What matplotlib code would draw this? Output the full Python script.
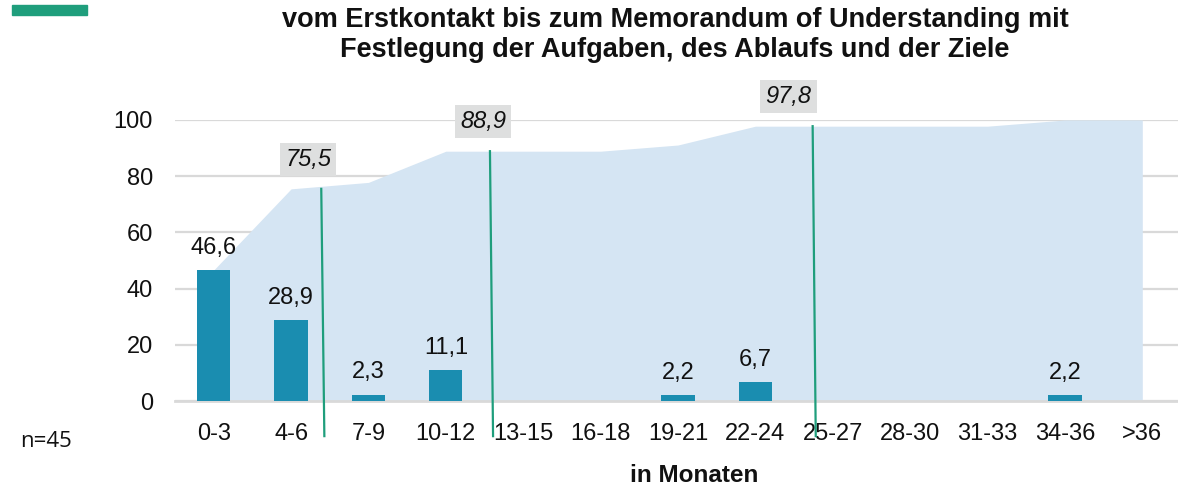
#!/usr/bin/env python3
"""
Dauer vom Erstkontakt bis zum Memorandum of Understanding - Balken mit kumulierter Fläche
"""

import numpy as np
import matplotlib.pyplot as plt
from matplotlib.patches import Rectangle

plt.rcParams['font.family'] = ['Liberation Sans', 'DejaVu Sans']

# Dauer in Monaten und Anteile in Prozent
categories = ['0-3', '4-6', '7-9', '10-12', '13-15', '16-18', '19-21', '22-24',
              '25-27', '28-30', '31-33', '34-36', '>36']
shares = [46.6, 28.9, 2.3, 11.1, 0, 0, 2.2, 6.7, 0, 0, 0, 2.2, 0]
cumulative = [46.6, 75.5, 77.8, 88.9, 88.9, 88.9, 91.1, 97.8, 97.8, 97.8, 97.8, 100, 100]

# Markierungen der kumulierten Schwellen
marker_values = [75.5, 88.9, 97.8]
marker_x = [1.39, 3.57, 7.74]
marker_label_x = [1.22, 3.48, 7.43]

BAR_COLOR = '#1a8db0'
AREA_COLOR = '#d5e5f3'
GREEN = '#1f9e7c'
GRID = '#d9d9d9'
TXT = '#111111'

W, H = 1178, 491
fig = plt.figure(figsize=(W / 100, H / 100), dpi=100)
ax = fig.add_axes([175 / W, 90 / H, 1006 / W, 281 / H])

x = np.arange(len(categories))

ax.fill_between(x, cumulative, 0, color=AREA_COLOR, linewidth=0, zorder=1)
ax.bar(x, shares, width=0.43, color=BAR_COLOR, zorder=3)

for i, v in enumerate(shares):
    if v > 0:
        ax.annotate(f"{v:.1f}".replace('.', ','), (i, v), xytext=(0, 8),
                    textcoords='offset points', ha='center', va='bottom',
                    fontsize=17, color=TXT, zorder=4)

for mx, lx, v in zip(marker_x, marker_label_x, marker_values):
    ax.plot([mx, mx + 0.04], [v, -12.5], color=GREEN, lw=1.6,
            clip_on=False, zorder=5)
    ax.text(lx, v + 10.5, f"{v:.1f}".replace('.', ','), ha='center', va='center',
            fontsize=17, style='italic', color=TXT, zorder=6,
            bbox=dict(boxstyle='square,pad=0.22', fc='#dedfdf', ec='none'))

ax.set_xlim(-0.5, 12.5)
ax.set_ylim(0, 100)
ax.set_yticks(range(0, 101, 20))
ax.yaxis.grid(True, color=GRID, lw=1.6, zorder=0)
ax.set_axisbelow(True)
ax.set_xticks(x)
ax.set_xticklabels(categories)
ax.tick_params(axis='both', length=0, labelsize=17, colors=TXT)
ax.tick_params(axis='x', pad=16)
ax.tick_params(axis='y', pad=16)
for side in ['top', 'right', 'left']:
    ax.spines[side].set_visible(False)
ax.spines['bottom'].set_color(GRID)
ax.spines['bottom'].set_linewidth(2)

# Achsentitel
fig.text(694 / W, 1 - 482 / H, 'in Monaten', ha='center', va='baseline',
         fontsize=17.5, fontweight='bold', color=TXT)

# Titel in zwei Zeilen
fig.text(675 / W, 1 - 27 / H,
         'vom Erstkontakt bis zum Memorandum of Understanding mit',
         ha='center', va='baseline', fontsize=19.5, fontweight='bold', color=TXT)
fig.text(675 / W, 1 - 57 / H,
         'Festlegung der Aufgaben, des Ablaufs und der Ziele',
         ha='center', va='baseline', fontsize=19.5, fontweight='bold', color=TXT)

fig.patches.append(Rectangle((12 / W, 1 - 15 / H), 75 / W, 10 / H,
                             transform=fig.transFigure, color=GREEN))

fig.text(20 / W, 1 - 447 / H, 'n=45', fontsize=16, va='baseline', color=TXT,
         family=['Open Sans', 'DejaVu Sans'])

fig.savefig('out.png', dpi=100)
